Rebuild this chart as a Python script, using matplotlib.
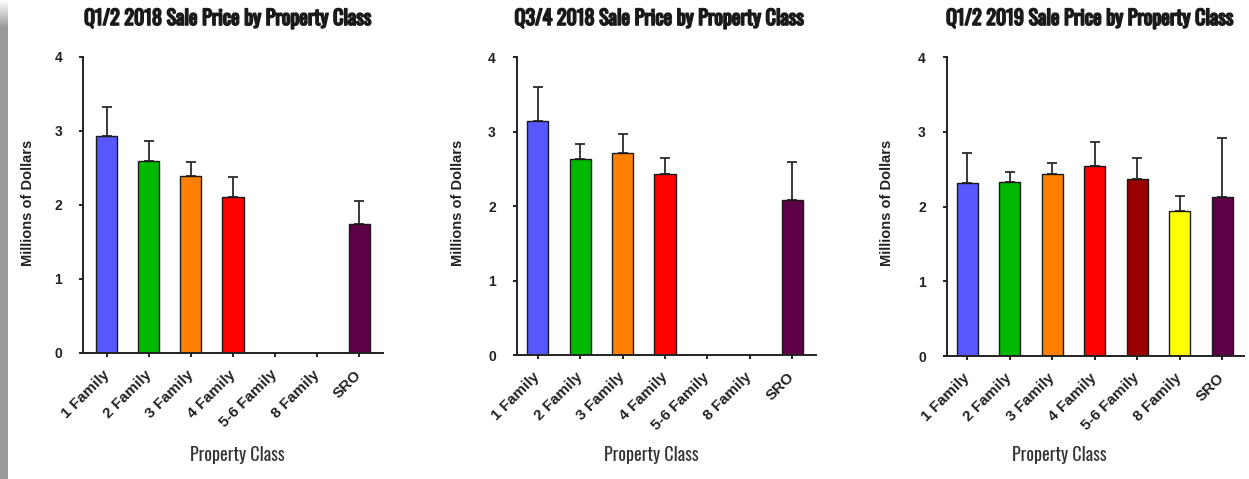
import numpy as np
import matplotlib
matplotlib.use("Agg")
import matplotlib.pyplot as plt
import matplotlib.patheffects as pe
from matplotlib import font_manager as fm

# ---------------- data ----------------
categories = ["1 Family", "2 Family", "3 Family", "4 Family", "5-6 Family", "8 Family", "SRO"]
titles = ["Q1/2 2018 Sale Price by Property Class",
          "Q3/4 2018 Sale Price by Property Class",
          "Q1/2 2019 Sale Price by Property Class"]
nan = np.nan
means_q12_2018 = [2.93, 2.60, 2.39, 2.11, nan, nan, 1.75]
err_q12_2018 = [0.39, 0.26, 0.19, 0.27, nan, nan, 0.30]
means_q34_2018 = [3.15, 2.63, 2.71, 2.43, nan, nan, 2.08]
err_q34_2018 = [0.45, 0.20, 0.26, 0.22, nan, nan, 0.52]
means_q12_2019 = [2.32, 2.33, 2.44, 2.54, 2.37, 1.94, 2.13]
err_q12_2019 = [0.40, 0.14, 0.14, 0.33, 0.28, 0.20, 0.79]
bar_colors = ["#5757FF", "#00B800", "#FF8000", "#FF0000", "#9A0000", "#FFFF00", "#5E0048"]
y_ticks = [0, 1, 2, 3, 4]
x_label = "Property Class"
y_label = "Millions of Dollars"

panels = [(means_q12_2018, err_q12_2018),
          (means_q34_2018, err_q34_2018),
          (means_q12_2019, err_q12_2019)]

# ---------------- fonts ----------------
avail = {f.name for f in fm.fontManager.ttflist}
def pick(names, default):
    for n in names:
        if n in avail:
            return n
    return default
title_font = pick(["Oswald", "Roboto Condensed"], "DejaVu Sans")
label_font = pick(["Oswald", "Roboto Condensed"], "DejaVu Sans")
arial = pick(["Liberation Sans", "Arial"], "DejaVu Sans")

W, H = 1249, 479
fig = plt.figure(figsize=(W / 100, H / 100), dpi=100)

def fx(px):
    return px / W
def fy(py):
    return 1 - py / H

# gray strip at left edge
gax = fig.add_axes([0, 0, 8 / W, 1])
grad = np.ones((479, 1))
grad[:28, 0] = np.linspace(0.0, 1.0, 28)
gray = 1 - grad * (1 - 0.60)
gax.imshow(np.dstack([gray, gray, gray]), aspect="auto", extent=[0, 1, 0, 1])
gax.axis("off")

# layout in pixels: left, right, top(y=4), bottom(y=0), xlim, title cx, xlabel cx, ylabel cx
layout = [
    (83.0, 383.0, 57.0, 353.0, (-0.571, 6.571), 227.5, 237.0, 28.0),
    (516.7, 816.0, 57.3, 355.3, (-0.495, 6.56), 659.0, 651.0, 458.0),
    (946.7, 1244.0, 57.3, 356.0, (-0.485, 6.51), 1089.5, 1059.0, 887.0),
]

edge = "#1a1a1a"
x = np.arange(len(categories))
for (means, errs), title, (l, r, t, b, xl, tcx, xcx, ycx) in zip(panels, titles, layout):
    ax = fig.add_axes([fx(l), fy(b), (r - l) / W, (b - t) / H])
    m = np.array(means, dtype=float)
    e = np.array(errs, dtype=float)
    ok = ~np.isnan(m)
    ax.bar(x[ok], m[ok], width=0.5, color=[c for c, k in zip(bar_colors, ok) if k],
           edgecolor=edge, linewidth=1.0, zorder=2)
    ax.errorbar(x[ok], m[ok], yerr=[np.zeros(ok.sum()), e[ok]], fmt="none",
                ecolor="#2a2a2a", elinewidth=1.3, capsize=3.6, capthick=1.3, zorder=1,
                clip_on=False)
    ax.set_xlim(*xl)
    ax.set_ylim(0, 4)
    ax.set_yticks(y_ticks)
    ax.set_xticks(x)
    ax.set_xticklabels(categories, rotation=45, ha="right", va="center",
                       rotation_mode="anchor", fontfamily=arial, fontweight="bold",
                       fontsize=11, color="#222222")
    ax.set_yticklabels([str(v) for v in y_ticks], fontfamily=arial, fontweight="bold",
                       fontsize=10, color="#222222")
    for s in ["top", "right"]:
        ax.spines[s].set_visible(False)
    for s in ["left", "bottom"]:
        ax.spines[s].set_linewidth(1.4)
        ax.spines[s].set_color("#222222")
    ax.tick_params(axis="y", length=3, width=1.4, color="#222222", pad=12)
    ax.tick_params(axis="x", length=3, width=1.4, color="#222222", pad=11)
    # title, axis labels
    fig.text(fx(tcx), fy(25), title, ha="center", va="baseline", fontfamily=title_font,
             fontsize=14.5, color="#1a1a1a",
             path_effects=[pe.withStroke(linewidth=1.2, foreground="#1a1a1a")])
    fig.text(fx(xcx), fy(455), x_label, ha="center", va="center", fontfamily=label_font,
             fontsize=13, color="#333333")
    fig.text(fx(ycx), fy(203), y_label, ha="center", va="center", rotation=90,
             fontfamily=arial, fontweight="bold", fontsize=10.5, color="#222222")

fig.savefig("out.png", dpi=100)
